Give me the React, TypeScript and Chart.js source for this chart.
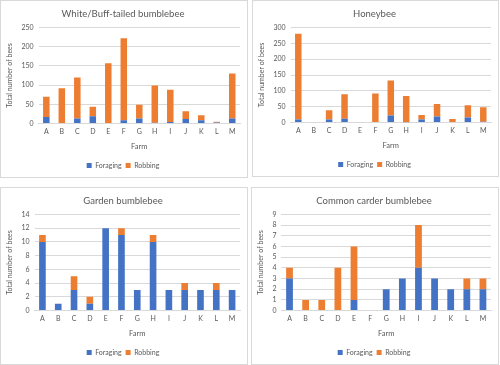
import React, { useEffect, useRef } from "react";
import { Chart, registerables } from "chart.js";

Chart.register(...registerables);

const farms = ["A", "B", "C", "D", "E", "F", "G", "H", "I", "J", "K", "L", "M"];

const whiteForaging = [17, 0, 13, 19, 0, 9, 13, 2, 4, 12, 9, 3, 13];
const whiteRobbing = [53, 92, 107, 25, 157, 213, 36, 97, 84, 20, 13, 2, 117];

const honeyForaging = [10, 0, 10, 12, 0, 0, 22, 1, 10, 19, 0, 16, 3];
const honeyRobbing = [270, 0, 29, 77, 2, 92, 111, 83, 14, 40, 11, 39, 45];

const gardenForaging = [10, 1, 3, 1, 12, 11, 3, 10, 3, 3, 3, 3, 3];
const gardenRobbing = [1, 0, 2, 1, 0, 1, 0, 1, 0, 1, 0, 1, 0];

const carderForaging = [3, 0, 0, 0, 1, 0, 2, 3, 4, 3, 2, 2, 2];
const carderRobbing = [1, 1, 1, 4, 5, 0, 0, 0, 4, 0, 0, 1, 1];

const FONT = "Lato, 'Open Sans', sans-serif";
const TXT = "#595959";
const GRID = "#d9d9d9";
const BLUE = "#4472C4";
const ORANGE = "#ED7D31";

type PanelProps = {
  title: string;
  foraging: number[];
  robbing: number[];
  max: number;
  step: number;
  left: number;
  top: number;
  width: number;
  height: number;
};

function Panel({ title, foraging, robbing, max, step, left, top, width, height }: PanelProps) {
  const ref = useRef<HTMLCanvasElement | null>(null);
  useEffect(() => {
    if (!ref.current) return;
    const chart = new Chart(ref.current, {
      type: "bar",
      data: {
        labels: farms,
        datasets: [
          {
            label: "Foraging",
            data: foraging,
            backgroundColor: BLUE,
            barPercentage: 0.42,
            categoryPercentage: 1,
          },
          {
            label: "Robbing",
            data: robbing,
            backgroundColor: ORANGE,
            barPercentage: 0.42,
            categoryPercentage: 1,
          },
        ],
      },
      options: {
        responsive: false,
        animation: false,
        devicePixelRatio: 1,
        layout: { padding: { top: 4, right: 7, bottom: -2, left: 5 } },
        plugins: {
          title: {
            display: true,
            text: title,
            color: TXT,
            font: { family: FONT, size: 9.5, weight: "normal" },
            padding: { top: 3, bottom: 8 },
          },
          legend: {
            position: "bottom",
            labels: {
              color: TXT,
              font: { family: FONT, size: 7 },
              boxWidth: 5,
              boxHeight: 5,
              padding: 4,
            },
          },
          tooltip: { enabled: false },
        },
        scales: {
          x: {
            stacked: true,
            grid: { display: false, drawTicks: false },
            border: { display: true, color: GRID },
            ticks: { color: TXT, font: { family: FONT, size: 7 }, padding: 4 },
            title: {
              display: true,
              text: "Farm",
              color: TXT,
              font: { family: FONT, size: 7.5 },
              padding: { top: 2, bottom: 7 },
            },
          },
          y: {
            stacked: true,
            min: 0,
            max: max,
            ticks: {
              stepSize: step,
              autoSkip: false,
              color: TXT,
              font: { family: FONT, size: 7 },
              padding: 5,
            },
            grid: { color: GRID, drawTicks: false },
            border: { display: false },
            title: {
              display: true,
              text: "Total number of bees",
              color: TXT,
              font: { family: FONT, size: 7 },
              padding: { top: 0, bottom: 2 },
            },
          },
        },
      },
    });
    return () => chart.destroy();
  }, []);
  return (
    <div
      style={{
        position: "absolute",
        left,
        top,
        width,
        height,
        border: "1px solid #d9d9d9",
        boxSizing: "border-box",
        background: "#fff",
        overflow: "hidden",
      }}
    >
      <canvas ref={ref} width={width - 2} height={height - 2} style={{ display: "block" }} />
    </div>
  );
}

export default function App() {
  return (
    <div style={{ position: "absolute", left: 0, top: 0, width: 500, height: 365, background: "#fff" }}>
      <Panel title="White/Buff-tailed bumblebee" foraging={whiteForaging} robbing={whiteRobbing} max={250} step={50} left={0} top={0} width={248} height={178} />
      <Panel title="Honeybee" foraging={honeyForaging} robbing={honeyRobbing} max={300} step={50} left={252} top={0} width={247} height={177} />
      <Panel title="Garden bumblebee" foraging={gardenForaging} robbing={gardenRobbing} max={14} step={2} left={0} top={187} width={248} height={178} />
      <Panel title="Common carder bumblebee" foraging={carderForaging} robbing={carderRobbing} max={9} step={1} left={251} top={187} width={248} height={178} />
    </div>
  );
}
